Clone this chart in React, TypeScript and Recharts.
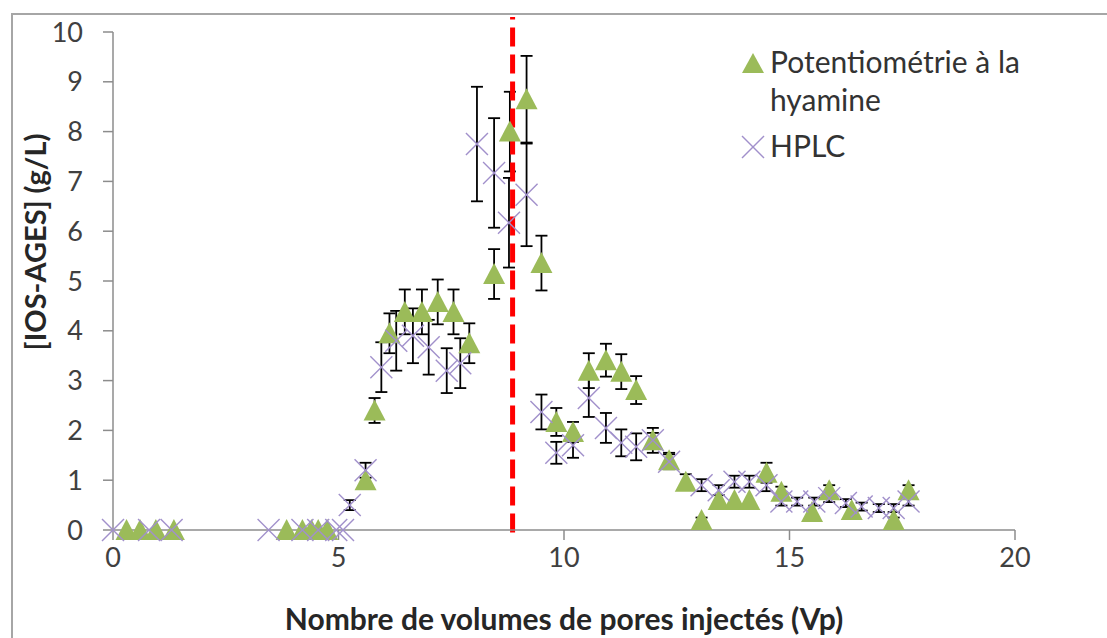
import React from "react";
import {
  ScatterChart,
  Scatter,
  XAxis,
  YAxis,
  ErrorBar,
  ReferenceLine,
  Label,
} from "recharts";

// Potentiométrie à la hyamine (triangles)
const potX = [
  0.3, 0.6, 0.95, 1.35, 3.85, 4.2, 4.4, 4.55, 4.75, 5.6, 5.8, 6.13, 6.47, 6.85,
  7.2, 7.55, 7.9, 8.45, 8.8, 9.17, 9.5, 9.83, 10.2, 10.55, 10.93, 11.27, 11.6,
  11.97, 12.33, 12.7, 13.05, 13.43, 13.78, 14.11, 14.49, 14.82, 15.5, 15.88,
  16.38, 17.31, 17.64,
];
const potY = [
  0, 0, 0, 0, 0, 0, 0, 0, 0, 1.0, 2.4, 3.95, 4.38, 4.38, 4.58, 4.38, 3.75, 5.14,
  8.0, 8.65, 5.36, 2.17, 1.97, 3.2, 3.41, 3.18, 2.81, 1.8, 1.4, 0.97, 0.2, 0.6,
  0.6, 0.6, 1.15, 0.77, 0.36, 0.8, 0.4, 0.2, 0.8,
];
const potErr = [
  0, 0, 0, 0, 0, 0, 0, 0, 0, 0, 0.25, 0.4, 0.45, 0.45, 0.45, 0.45, 0.4, 0.5,
  0.8, 0.87, 0.55, 0.28, 0.2, 0.35, 0.33, 0.35, 0.28, 0.25, 0.15, 0.15, 0.05,
  0, 0, 0, 0.2, 0.1, 0, 0.1, 0, 0.05, 0.1,
];

// HPLC (croix)
const hplcX = [
  0, 0.8, 1.3, 3.45, 4.2, 4.55, 4.95, 5.1, 5.25, 5.6, 5.95, 6.28, 6.65, 7.0,
  7.4, 7.7, 8.07, 8.45, 8.78, 9.17, 9.5, 9.83, 10.2, 10.55, 10.93, 11.27, 11.6,
  11.97, 12.33, 13.05, 13.43, 13.78, 14.11, 14.49, 14.82, 15.17, 15.55, 15.88,
  16.25, 16.6, 16.98, 17.31, 17.64,
];
const hplcY = [
  0, 0, 0, 0, 0, 0, 0, 0, 0.5, 1.2, 3.27, 3.8, 3.9, 3.67, 3.2, 3.35, 7.75, 7.17,
  6.17, 6.73, 2.37, 1.55, 1.7, 2.65, 2.05, 1.75, 1.67, 1.8, 1.37, 0.9, 0.8,
  0.97, 0.97, 0.9, 0.57, 0.57, 0.57, 0.64, 0.54, 0.47, 0.44, 0.44, 0.57,
];
const hplcErr = [
  0, 0, 0, 0, 0, 0, 0, 0, 0.1, 0.15, 0.5, 0.6, 0.55, 0.55, 0.45, 0.5, 1.15, 1.1,
  0.9, 1.03, 0.35, 0.22, 0.25, 0.38, 0.3, 0.27, 0.27, 0.15, 0.15, 0.12, 0.1,
  0.12, 0.12, 0.12, 0.08, 0.08, 0.08, 0.08, 0.08, 0.08, 0.08, 0.08, 0.08,
];

const xTicks = [0, 5, 10, 15, 20];
const yTicks = [0, 1, 2, 3, 4, 5, 6, 7, 8, 9, 10];
const injectionLimit = 8.86;

const potData = potX.map((x, i) => ({ x, y: potY[i], err: potErr[i] }));
const hplcData = hplcX.map((x, i) => ({ x, y: hplcY[i], err: hplcErr[i] }));

const GREEN = "#9BBB59";
const LAVENDER = "#A190CB";
const AXIS = "#8C8C8C";
const FONT = "Lato, 'Open Sans', sans-serif";

const Triangle = (props: any) => {
  const { cx, cy } = props;
  if (cx == null || cy == null) return null;
  return (
    <polygon
      points={`${cx},${cy - 11} ${cx - 11},${cy + 10} ${cx + 11},${cy + 10}`}
      fill={GREEN}
    />
  );
};

const Cross = (props: any) => {
  const { cx, cy } = props;
  if (cx == null || cy == null) return null;
  const r = 11;
  return (
    <g stroke={LAVENDER} strokeWidth={1.4}>
      <line x1={cx - r} y1={cy - r} x2={cx + r} y2={cy + r} />
      <line x1={cx - r} y1={cy + r} x2={cx + r} y2={cy - r} />
    </g>
  );
};

// legend drawn beside the chart so it does not shrink the plot area
const ChartLegend = () => (
  <div
    style={{
      position: "absolute",
      left: 738,
      top: 42,
      width: 340,
      fontFamily: FONT,
      fontSize: 30,
      color: "#333",
      lineHeight: "38px",
    }}
  >
    <div style={{ display: "flex", alignItems: "flex-start" }}>
      <svg width={32} height={38} style={{ flex: "none" }}>
        <polygon points="15,11 4,31 26,31" fill={GREEN} />
      </svg>
      <span style={{ display: "block", width: 290 }}>Potentiométrie à la hyamine</span>
    </div>
    <div style={{ display: "flex", alignItems: "flex-start", marginTop: 8 }}>
      <svg width={32} height={38} style={{ flex: "none" }}>
        <g stroke={LAVENDER} strokeWidth={1.4}>
          <line x1={4} y1={10} x2={26} y2={32} />
          <line x1={4} y1={32} x2={26} y2={10} />
        </g>
      </svg>
      <span>HPLC</span>
    </div>
  </div>
);

export default function App() {
  return (
    <div
      style={{
        position: "absolute",
        left: 0,
        top: 0,
        width: 1107,
        height: 638,
        overflow: "hidden",
        background: "#fff",
      }}
    >
      <div
        style={{
          position: "absolute",
          left: 11,
          top: 13,
          width: 1200,
          height: 700,
          border: "2px solid #A6A6A6",
        }}
      />
      <ScatterChart
        width={1107}
        height={638}
        margin={{ top: 32, right: 92, bottom: 58, left: 53 }}
        style={{ position: "absolute", left: 0, top: 0 }}
      >
        <XAxis
          type="number"
          dataKey="x"
          domain={[0, 20]}
          ticks={xTicks}
          tickSize={10}
          tickMargin={8}
          height={50}
          stroke={AXIS}
          strokeWidth={1.5}
          tick={{ fill: "#404040", fontSize: 27, fontFamily: FONT }}
        >
          <Label
            content={() => (
              <text
                x={564}
                y={630}
                textAnchor="middle"
                fontFamily={FONT}
                fontWeight="bold"
                fontSize={30}
                fill="#262626"
              >
                Nombre de volumes de pores injectés (Vp)
              </text>
            )}
          />
        </XAxis>
        <YAxis
          type="number"
          dataKey="y"
          domain={[0, 10]}
          ticks={yTicks}
          tickSize={10}
          tickMargin={20}
          width={60}
          stroke={AXIS}
          strokeWidth={1.5}
          tick={{ fill: "#404040", fontSize: 27, fontFamily: FONT }}
        >
          <Label
            content={() => (
              <text
                x={46}
                y={242}
                transform="rotate(-90 46 242)"
                textAnchor="middle"
                fontFamily={FONT}
                fontWeight="bold"
                fontSize={29}
                fill="#262626"
              >
                [IOS-AGES] (g/L)
              </text>
            )}
          />
        </YAxis>
        <Scatter
          name="Potentiométrie à la hyamine"
          data={potData}
          shape={<Triangle />}
          isAnimationActive={false}
        >
          <ErrorBar dataKey="err" direction="y" width={6} stroke="#000" strokeWidth={1.8} />
        </Scatter>
        <Scatter name="HPLC" data={hplcData} shape={<Cross />} isAnimationActive={false}>
          <ErrorBar dataKey="err" direction="y" width={6} stroke="#000" strokeWidth={1.8} />
        </Scatter>
        <ReferenceLine
          segment={[
            { x: injectionLimit, y: -0.05 },
            { x: injectionLimit, y: 10.3 },
          ]}
          ifOverflow="visible"
          stroke="#FF0000"
          strokeWidth={5}
          strokeDasharray="19 8"
        />
      </ScatterChart>
      <ChartLegend />
    </div>
  );
}
